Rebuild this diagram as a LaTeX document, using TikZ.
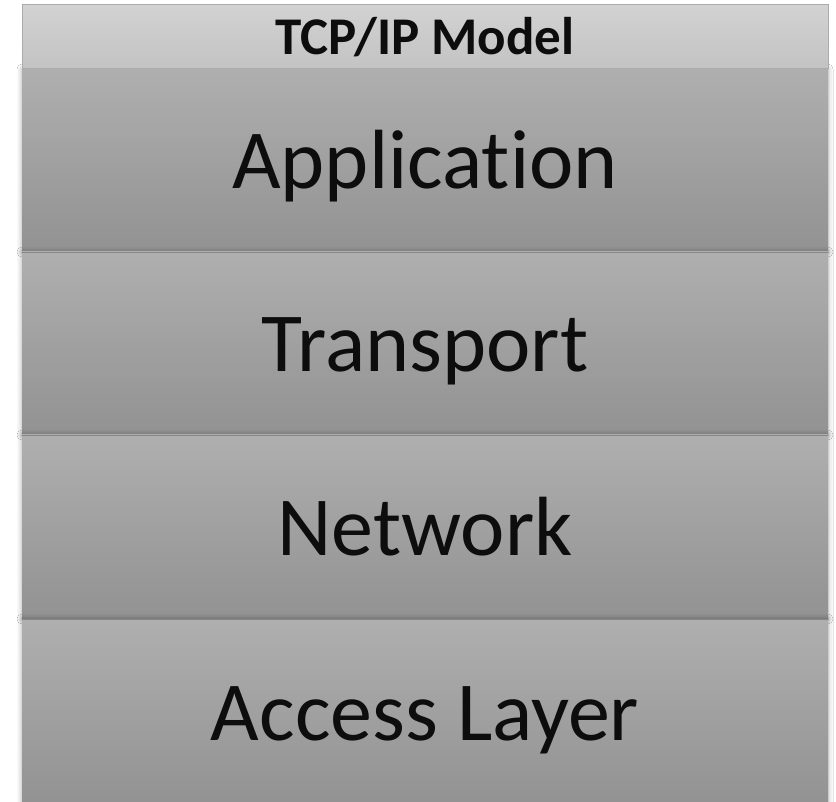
\documentclass[tikz,border=0pt]{standalone}
\usepackage{fontspec}
\setmainfont[Ligatures=NoCommon]{Carlito}
\usetikzlibrary{shadows.blur}
\definecolor{laytop}{HTML}{AFAFAF}
\definecolor{laybot}{HTML}{929292}
\definecolor{laylin}{HTML}{868686}
\definecolor{headtop}{HTML}{D2D2D2}
\definecolor{headbot}{HTML}{C3C3C3}
\definecolor{headedge}{HTML}{ABABAB}
\tikzset{
  layerbox/.style={rectangle, inner sep=0pt, minimum width=806pt,
    top color=laytop, bottom color=laybot, text=black!95,
    text height=57pt, text depth=0pt,
    font=\fontsize{84}{84}\selectfont,
    blur shadow={shadow xshift=0pt, shadow yshift=0pt, shadow blur radius=5pt, shadow opacity=35}},
  headbox/.style={rectangle, inner sep=0pt, minimum width=806pt, minimum height=64pt,
    top color=headtop, bottom color=headbot, draw=headedge, line width=1pt,
    text height=35pt, text depth=0pt,
    font=\bfseries\fontsize{53}{53}\selectfont, text=black!95},
  seam/.style={draw=laylin, line width=1.2pt}
}
\begin{document}
\begin{tikzpicture}[x=1pt,y=-1pt]
\useasboundingbox[fill=white] (0,0) rectangle (836,802);
\node[layerbox, minimum height=183pt] (app) at (425,160.5) {Application};
\node[layerbox, minimum height=183pt] (tra) at (425,343.5) {Transport};
\node[layerbox, minimum height=184pt] (net) at (425,527) {Network};
\node[layerbox, minimum height=186pt] (acc) at (425,712) {Access Layer};
\draw[seam] (app.south west) -- (app.south east);
\draw[seam] (tra.south west) -- (tra.south east);
\draw[seam] (net.south west) -- (net.south east);
\node[headbox] (head) at (425,37) {TCP/IP Model};
\end{tikzpicture}
\end{document}
